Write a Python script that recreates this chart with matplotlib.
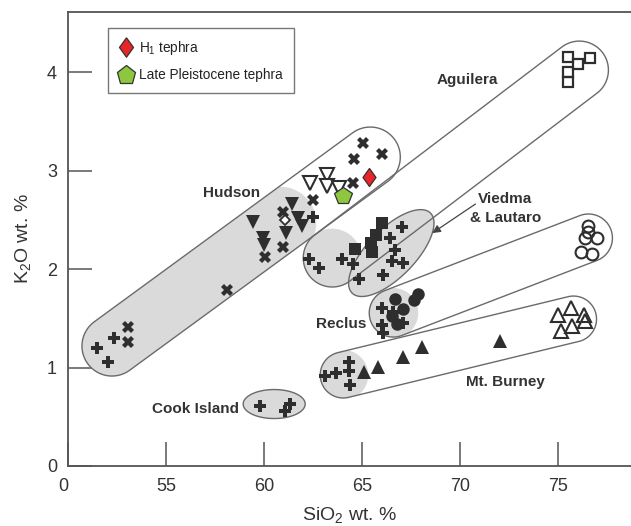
import numpy as np
import matplotlib
matplotlib.use("Agg")
import matplotlib.pyplot as plt
from matplotlib.patches import Polygon
from matplotlib.lines import Line2D

plt.rcParams['font.family'] = ['Liberation Sans', 'DejaVu Sans']
plt.rcParams['mathtext.fontset'] = 'custom'
plt.rcParams['mathtext.rm'] = 'Liberation Sans'
plt.rcParams['mathtext.it'] = 'Liberation Sans:italic'
plt.rcParams['mathtext.bf'] = 'Liberation Sans:bold'

# ---------------- data (SiO2, K2O) ----------------
hud_plus_x = [51.48, 52.35, 52.04, 62.50]
hud_plus_y = [1.20, 1.30, 1.06, 2.53]
hud_x_x = [53.06, 53.06, 58.11, 60.97, 60.97, 60.05, 62.50, 65.05, 64.59, 66.02, 64.54]
hud_x_y = [1.41, 1.26, 1.79, 2.58, 2.22, 2.12, 2.70, 3.28, 3.12, 3.17, 2.87]
hud_dia_x = [61.07]
hud_dia_y = [2.50]
hud_vfill_x = [59.44, 59.95, 60.00, 61.12, 61.43, 61.73, 61.94]
hud_vfill_y = [2.48, 2.32, 2.24, 2.37, 2.66, 2.52, 2.44]
hud_vopen_x = [62.35, 63.21, 63.21, 63.83]
hud_vopen_y = [2.87, 2.95, 2.84, 2.82]
h1_x = [65.36]
h1_y = [2.93]
lp_x = [64.03]
lp_y = [2.74]

cen_plus_x = [62.30, 62.81, 63.98, 64.54]
cen_plus_y = [2.10, 2.01, 2.10, 2.05]
cen_sq_x = [66.02, 65.71, 65.46, 65.51, 64.64]
cen_sq_y = [2.47, 2.35, 2.26, 2.17, 2.20]
vied_plus_x = [67.04, 66.43, 66.68, 66.53, 67.09, 66.07, 64.85]
vied_plus_y = [2.43, 2.32, 2.19, 2.08, 2.06, 1.94, 1.90]

recl_circ_x = [66.68, 67.86, 67.65, 67.09, 66.53, 66.78]
recl_circ_y = [1.70, 1.75, 1.69, 1.59, 1.52, 1.44]
recl_plus_x = [66.02, 66.58, 66.02, 66.07, 67.09]
recl_plus_y = [1.60, 1.56, 1.43, 1.35, 1.45]
vied_open_x = [76.53, 76.53, 76.99, 76.38, 76.17, 76.73]
vied_open_y = [2.44, 2.38, 2.32, 2.31, 2.17, 2.15]

burn_plus_x = [63.11, 63.67, 64.34, 64.34, 64.39]
burn_plus_y = [0.91, 0.94, 1.06, 0.96, 0.82]
burn_tri_x = [65.10, 65.82, 67.09, 68.06, 72.04]
burn_tri_y = [0.95, 1.01, 1.11, 1.21, 1.27]
burn_open_x = [75.00, 75.66, 76.28, 75.15, 75.71, 76.33]
burn_open_y = [1.53, 1.60, 1.53, 1.37, 1.42, 1.47]

agu_x = [75.51, 76.02, 76.63, 75.51, 75.51]
agu_y = [4.15, 4.08, 4.14, 4.00, 3.90]

cook_x = [59.80, 61.07, 61.33]
cook_y = [0.61, 0.56, 0.63]

x_ticks = [50, 55, 60, 65, 70, 75]
x_ticklabels = ['0', '55', '60', '65', '70', '75']
y_ticks = [0, 1, 2, 3, 4]
y_ticklabels = ['0', '1', '2', '3', '4']

# ---------------- figure ----------------
fig = plt.figure(figsize=(6.31, 5.26), dpi=100)
ax = fig.add_axes([0.1078, 0.1141, 0.8922, 0.8631])
ax.set_xlim(50, 78.7)
ax.set_ylim(0, 4.61)

spc = '#555555'
for s in ['left', 'bottom', 'top']:
    ax.spines[s].set_color(spc)
    ax.spines[s].set_linewidth(1.3)
ax.spines['right'].set_visible(False)

ax.set_xticks(x_ticks)
ax.set_xticklabels(x_ticklabels)
ax.set_yticks(y_ticks)
ax.set_yticklabels(y_ticklabels)
ax.tick_params(axis='both', direction='in', length=17, width=1.1, color=spc,
               labelsize=13, labelcolor='#333333')
ax.tick_params(axis='x', pad=9)
ax.tick_params(axis='y', pad=8)
ax.get_xticklabels()[0].set_horizontalalignment('right')
ax.get_xticklabels()[0].set_x(50.45)
ax.set_xlabel('SiO$_2$ wt. %', fontsize=14, color='#333333', labelpad=7)
ax.set_ylabel('K$_2$O wt. %', fontsize=14, color='#333333', labelpad=10)

fig.canvas.draw()
T = ax.transData
Ti = T.inverted()

GRAY = '#dadada'
EDGE = '#6a6a6a'


def capsule(p1, p2, r, n=60):
    a = np.array(T.transform(p1))
    b = np.array(T.transform(p2))
    th = np.arctan2(b[1] - a[1], b[0] - a[0])
    t1 = np.linspace(th - np.pi / 2, th + np.pi / 2, n)
    t2 = np.linspace(th + np.pi / 2, th + 3 * np.pi / 2, n)
    pts = np.vstack([np.c_[b[0] + r * np.cos(t1), b[1] + r * np.sin(t1)],
                     np.c_[a[0] + r * np.cos(t2), a[1] + r * np.sin(t2)]])
    return Ti.transform(pts)


def ellipse(c, w, h, ang, n=120):
    cc = np.array(T.transform(c))
    t = np.linspace(0, 2 * np.pi, n)
    x = w / 2 * np.cos(t)
    y = h / 2 * np.sin(t)
    a = np.deg2rad(ang)
    pts = np.c_[cc[0] + x * np.cos(a) - y * np.sin(a), cc[1] + x * np.sin(a) + y * np.cos(a)]
    return Ti.transform(pts)


def circle(c, r):
    return ellipse(c, 2 * r, 2 * r, 0)


def add_env(pts, fill=False, z=1, clip=None):
    if fill:
        p = Polygon(pts, closed=True, facecolor=GRAY, edgecolor='none', zorder=z)
    else:
        p = Polygon(pts, closed=True, facecolor='none', edgecolor=EDGE, lw=1.0, zorder=z)
    ax.add_patch(p)
    if clip is not None:
        p.set_clip_path(clip)
    return p

# Hudson envelope
hud_outline = capsule((52.24, 1.218), (65.41, 3.137), 30)
hud_clip = Polygon(hud_outline, closed=True, facecolor='none', edgecolor='none', transform=ax.transData)
ax.add_patch(hud_clip)
add_env(capsule((52.24, 1.218), (60.6, 2.43), 30), fill=True, z=1, clip=hud_clip)
add_env(circle((60.82, 2.47), 36), fill=True, z=1, clip=hud_clip)
add_env(hud_outline, z=2)

# Aguilera envelope
agu_outline = capsule((63.47, 2.112), (76.07, 4.020), 29)
agu_clip = Polygon(agu_outline, closed=True, facecolor='none', edgecolor='none', transform=ax.transData)
ax.add_patch(agu_clip)
add_env(circle((63.45, 2.105), 30), fill=True, z=1, clip=agu_clip)
add_env(agu_outline, z=2)

# Viedma & Lautaro ellipse
vied = ellipse((66.48, 2.162), 112, 48, 45.7)
add_env(vied, fill=True, z=1.5)
add_env(vied, z=2.2)

# Reclus envelope
rec_outline = capsule((66.58, 1.553), (76.53, 2.315), 24)
rec_clip = Polygon(rec_outline, closed=True, facecolor='none', edgecolor='none', transform=ax.transData)
ax.add_patch(rec_clip)
add_env(circle((66.58, 1.553), 25), fill=True, z=1, clip=rec_clip)
add_env(rec_outline, z=2)

# Mt. Burney envelope
bur_outline = capsule((64.03, 0.924), (75.77, 1.492), 23)
bur_clip = Polygon(bur_outline, closed=True, facecolor='none', edgecolor='none', transform=ax.transData)
ax.add_patch(bur_clip)
add_env(circle((64.03, 0.924), 25), fill=True, z=1, clip=bur_clip)
add_env(bur_outline, z=2)

# Cook Island ellipse
cook = ellipse((60.51, 0.629), 62, 29, 0)
add_env(cook, fill=True, z=1)
add_env(cook, z=2)

# ---------------- markers ----------------
DK = '#2e2e2e'
z = 5
ax.plot(hud_plus_x, hud_plus_y, 'P', ms=8.5, color=DK, mew=0, ls='none', zorder=z)
ax.plot(cen_plus_x, cen_plus_y, 'P', ms=8.5, color=DK, mew=0, ls='none', zorder=z)
ax.plot(vied_plus_x, vied_plus_y, 'P', ms=8.5, color=DK, mew=0, ls='none', zorder=z)
ax.plot(recl_plus_x, recl_plus_y, 'P', ms=8.5, color=DK, mew=0, ls='none', zorder=z)
ax.plot(burn_plus_x, burn_plus_y, 'P', ms=8.5, color=DK, mew=0, ls='none', zorder=z)
ax.plot(cook_x, cook_y, 'P', ms=8.5, color=DK, mew=0, ls='none', zorder=z)
ax.plot(hud_x_x, hud_x_y, 'X', ms=8, color=DK, mew=0, ls='none', zorder=z)
ax.plot(hud_vfill_x, hud_vfill_y, 'v', ms=10, color=DK, mew=0, ls='none', zorder=z)
ax.plot(hud_dia_x, hud_dia_y, 'D', ms=5, mfc='white', mec=DK, mew=1.3, ls='none', zorder=z + 0.1)
ax.plot(hud_vopen_x, hud_vopen_y, 'v', ms=9.5, mfc='white', mec=DK, mew=1.5, ls='none', zorder=z)
ax.plot(cen_sq_x, cen_sq_y, 's', ms=8, color=DK, mew=0, ls='none', zorder=z)
ax.plot(recl_circ_x, recl_circ_y, 'o', ms=9, color=DK, mew=0, ls='none', zorder=z)
ax.plot(vied_open_x, vied_open_y, 'o', ms=8.5, mfc='none', mec=DK, mew=1.5, ls='none', zorder=z)
ax.plot(burn_tri_x, burn_tri_y, '^', ms=10.5, color=DK, mew=0, ls='none', zorder=z)
ax.plot(burn_open_x, burn_open_y, '^', ms=9.5, mfc='none', mec=DK, mew=1.5, ls='none', zorder=z)
ax.plot(agu_x, agu_y, 's', ms=6.5, mfc='none', mec=DK, mew=1.6, ls='none', zorder=z)

dia = [(0, 1), (0.72, 0), (0, -1), (-0.72, 0), (0, 1)]
RED = '#e8262a'
GRN = '#8dc63f'
ax.plot(h1_x, h1_y, marker=dia, ms=13, mfc=RED, mec='#333333', mew=0.9, ls='none', zorder=6)
ax.plot(lp_x, lp_y, 'p', ms=13, mfc=GRN, mec='#333333', mew=0.9, ls='none', zorder=6)

# ---------------- labels ----------------
lab = dict(fontsize=11, fontweight='bold', color='#333333', ha='center', va='center', zorder=7)
ax.text(58.32, 2.77, 'Hudson', **lab)
ax.text(70.36, 3.92, 'Aguilera', **lab)
ax.text(72.30, 2.71, 'Viedma', **lab)
ax.text(72.30, 2.52, '& Lautaro', **lab)
ax.text(63.93, 1.44, 'Reclus', **lab)
ax.text(72.30, 0.853, 'Mt. Burney', **lab)
ax.text(56.48, 0.579, 'Cook Island', **lab)

ax.annotate('', xy=(68.57, 2.365), xytext=(70.77, 2.66),
            arrowprops=dict(arrowstyle='-|>', color='#444444', lw=0.9, mutation_scale=12,
                            shrinkA=0, shrinkB=0), zorder=7)

# ---------------- legend ----------------
handles = [
    Line2D([], [], marker=dia, ms=14, mfc=RED, mec='#333333', mew=0.9, ls='none'),
    Line2D([], [], marker='p', ms=14, mfc=GRN, mec='#333333', mew=0.9, ls='none'),
]
leg = ax.legend(handles, ['H$_1$ tephra', 'Late Pleistocene tephra'],
                loc='upper left', bbox_to_anchor=(0.071, 0.965), borderaxespad=0,
                fontsize=9.8, frameon=True, fancybox=False, edgecolor='#555555',
                handlelength=1.0, handletextpad=0.5, borderpad=0.8, labelspacing=0.85,
                labelcolor='#222222')
leg.get_frame().set_linewidth(1.0)
leg.set_zorder(8)

fig.savefig('out.png', dpi=100)
